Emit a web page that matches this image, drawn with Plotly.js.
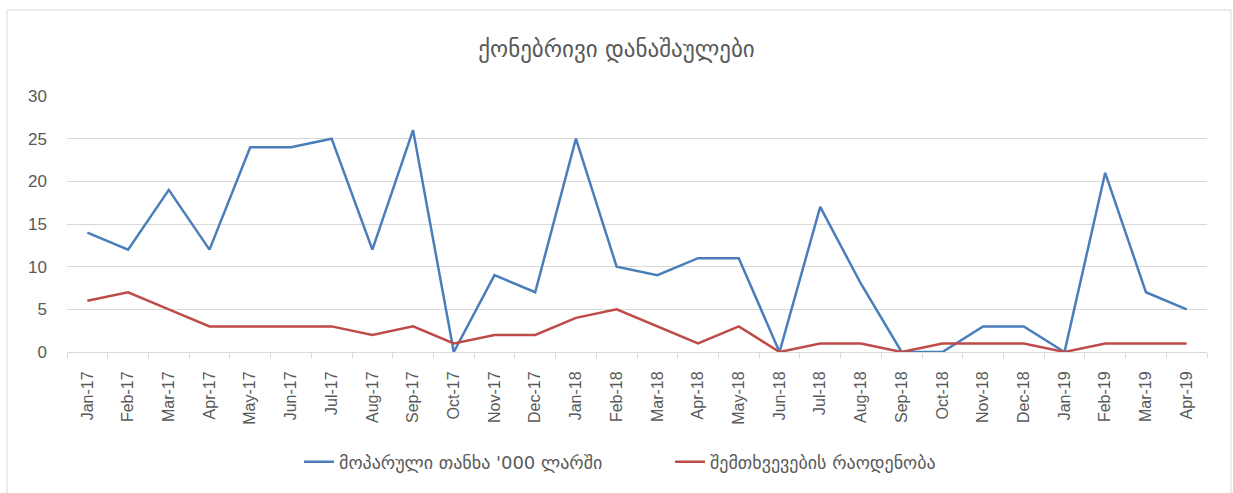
<!DOCTYPE html>
<html>
<head>
<meta charset="utf-8">
<script src="https://cdn.plot.ly/plotly-3.0.1.min.js"></script>
<style>html,body{margin:0;padding:0;background:#fff;}#chart{width:1233px;height:493px;}</style>
</head>
<body>
<div id="chart"></div>
<script>
const months = ["Jan-17","Feb-17","Mar-17","Apr-17","May-17","Jun-17","Jul-17","Aug-17","Sep-17","Oct-17","Nov-17","Dec-17",
  "Jan-18","Feb-18","Mar-18","Apr-18","May-18","Jun-18","Jul-18","Aug-18","Sep-18","Oct-18","Nov-18","Dec-18",
  "Jan-19","Feb-19","Mar-19","Apr-19"];
const stolenAmount = [14,12,19,12,24,24,25,12,26,0,9,7,25,10,9,11,11,0,17,8,0,0,3,3,0,21,7,5];
const caseCount = [6,7,5,3,3,3,3,2,3,1,2,2,4,5,3,1,3,0,1,1,0,1,1,1,0,1,1,1];
const seriesNames = ["მოპარული თანხა '000 ლარში", "შემთხვევების რაოდენობა"];
const chartTitle = "ქონებრივი დანაშაულები";
const yTicks = [0,5,10,15,20,25,30];

const fontFam = "Liberation Sans, DejaVu Sans, sans-serif";
const traces = [
  {x: months, y: stolenAmount, name: seriesNames[0], type: "scatter", mode: "lines",
   line: {color: "#4A7EBB", width: 2.5}},
  {x: months, y: caseCount, name: seriesNames[1], type: "scatter", mode: "lines",
   line: {color: "#BE4B48", width: 2.5}}
];
const layout = {
  width: 1233, height: 493,
  margin: {l: 67, r: 26, t: 96, b: 138},
  paper_bgcolor: "#fff", plot_bgcolor: "#fff",
  font: {family: fontFam, color: "#595959", size: 15},
  title: {text: chartTitle, x: 0.5, xanchor: "center", y: 0.9, yanchor: "middle",
          font: {family: "DejaVu Sans, sans-serif", size: 23, color: "#595959"}},
  xaxis: {type: "category", range: [-0.5, months.length - 0.5], tickangle: -90, tickson: "boundaries",
          ticks: "outside", ticklen: 5, ticklabelstandoff: 12, automargin: false,
          tickcolor: "#d9d9d9", showline: true, linecolor: "#d9d9d9", linewidth: 1,
          showgrid: false, tickfont: {size: 16, color: "#595959"}, fixedrange: true},
  yaxis: {range: [0, 30], tickvals: yTicks, ticktext: yTicks.map(String), showgrid: true,
          gridcolor: "#d9d9d9", gridwidth: 1, zeroline: false, showline: false, ticks: "",
          ticklabelstandoff: 19, automargin: false,
          tickfont: {size: 17, color: "#595959"}, fixedrange: true},
  showlegend: true,
  legend: {orientation: "h", x: (299-67)/1140, xanchor: "left", y: -0.43, yanchor: "middle",
           font: {family: "DejaVu Sans, sans-serif", size: 18, color: "#595959"},
           entrywidth: 326, entrywidthmode: "pixels", itemwidth: 30},
  shapes: [{type: "rect", xref: "paper", yref: "paper",
            x0: (7-67)/1140, x1: (1231-67)/1140, y0: -150/259, y1: (355-9)/259,
            line: {color: "#d9d9d9", width: 1}, fillcolor: "rgba(0,0,0,0)"}]
};
Plotly.newPlot("chart", traces, layout, {displayModeBar: false, staticPlot: true});
</script>
</body>
</html>
